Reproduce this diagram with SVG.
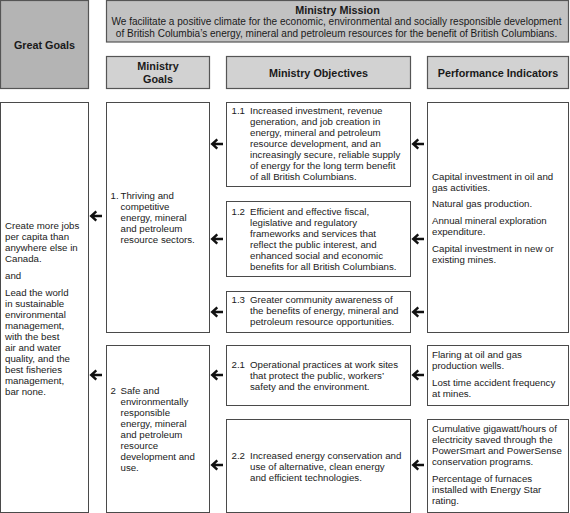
<svg xmlns="http://www.w3.org/2000/svg" xmlns:xlink="http://www.w3.org/1999/xlink" width="570" height="513" viewBox="0 0 570 513">
<style>
  .box { fill: #ffffff; stroke: #4a4a4a; stroke-width: 1; }
  .hdr { fill: #d2d2d2; stroke: #555555; stroke-width: 1.2; }
  .hdr2 { fill: #c2c2c2; stroke: #555555; stroke-width: 1.2; }
  .hdr3 { fill: #b4b4b4; stroke: #555555; stroke-width: 1.2; }
  text { font-family: "Liberation Sans", Arial, sans-serif; fill: #1a1a1a; }
  .t { font-size: 9.7px; }
  .h { font-size: 10.8px; font-weight: bold; text-anchor: middle; }
  .m { font-size: 10.05px; text-anchor: middle; }
  .arr { fill: none; stroke: #111111; stroke-width: 2.4; stroke-linecap: butt; stroke-linejoin: miter; }
</style>
<defs>
  <g id="arrow">
    <path class="arr" d="M1.5,0 H12 M6.3,-4.6 L1.2,0 L6.3,4.6"/>
  </g>
</defs>

<g id="great-goals-header">
  <rect class="hdr3" x="0.5" y="0.5" width="88" height="88"/>
  <text class="h" x="44.5" y="48.5">Great Goals</text>
</g>
<g id="ministry-mission">
  <rect class="hdr2" x="106.5" y="0.5" width="462" height="41.5"/>
  <text class="h" x="337.5" y="14">Ministry Mission</text>
  <text class="m" x="336.5" y="25">We facilitate a positive climate for the economic, environmental and socially responsible development</text>
  <text class="m" x="336.5" y="36.5">of British Columbia’s energy, mineral and petroleum resources for the benefit of British Columbians.</text>
</g>
<g id="ministry-goals-header">
  <rect class="hdr" x="106.5" y="56.5" width="103" height="32"/>
  <text class="h" x="158" y="70">Ministry</text>
  <text class="h" x="158" y="82.5">Goals</text>
</g>
<g id="ministry-objectives-header">
  <rect class="hdr" x="226.5" y="56.5" width="184" height="32"/>
  <text class="h" x="318.5" y="76.5">Ministry Objectives</text>
</g>
<g id="performance-indicators-header">
  <rect class="hdr" x="427.5" y="56.5" width="141" height="32"/>
  <text class="h" x="498" y="76.5">Performance Indicators</text>
</g>

<g id="great-goals">
  <rect class="box" x="0.5" y="102.5" width="88" height="410"/>
  <text class="t">
    <tspan x="5" y="229">Create more jobs</tspan>
    <tspan x="5" y="240">per capita than</tspan>
    <tspan x="5" y="251">anywhere else in</tspan>
    <tspan x="5" y="262">Canada.</tspan>
    <tspan x="5" y="278.5">and</tspan>
    <tspan x="5" y="295.5">Lead the world</tspan>
    <tspan x="5" y="306.5">in sustainable</tspan>
    <tspan x="5" y="317.5">environmental</tspan>
    <tspan x="5" y="328.5">management,</tspan>
    <tspan x="5" y="339.5">with the best</tspan>
    <tspan x="5" y="350.5">air and water</tspan>
    <tspan x="5" y="361.5">quality, and the</tspan>
    <tspan x="5" y="372.5">best fisheries</tspan>
    <tspan x="5" y="383.5">management,</tspan>
    <tspan x="5" y="394.5">bar none.</tspan>
  </text>
</g>

<g id="goal-1">
  <rect class="box" x="106.5" y="102.5" width="103" height="230"/>
  <text class="t">
    <tspan x="110.5" y="198.5">1.</tspan>
    <tspan x="120.5" y="198.5">Thriving and</tspan>
    <tspan x="120.5" y="209.5">competitive</tspan>
    <tspan x="120.5" y="220.5">energy, mineral</tspan>
    <tspan x="120.5" y="231.5">and petroleum</tspan>
    <tspan x="120.5" y="242.5">resource sectors.</tspan>
  </text>
</g>

<g id="goal-2">
  <rect class="box" x="106.5" y="345.5" width="103" height="167"/>
  <text class="t">
    <tspan x="110.5" y="393.5">2</tspan>
    <tspan x="120.5" y="393.5">Safe and</tspan>
    <tspan x="120.5" y="404.5">environmentally</tspan>
    <tspan x="120.5" y="415.5">responsible</tspan>
    <tspan x="120.5" y="426.5">energy, mineral</tspan>
    <tspan x="120.5" y="437.5">and petroleum</tspan>
    <tspan x="120.5" y="448.5">resource</tspan>
    <tspan x="120.5" y="459.5">development and</tspan>
    <tspan x="120.5" y="470.5">use.</tspan>
  </text>
</g>

<g id="objective-1-1">
  <rect class="box" x="226.5" y="102.5" width="184" height="84"/>
  <text class="t">
    <tspan x="231.5" y="113.5">1.1</tspan>
    <tspan x="250" y="113.5">Increased investment, revenue</tspan>
    <tspan x="250" y="124.5">generation, and job creation in</tspan>
    <tspan x="250" y="135.5">energy, mineral and petroleum</tspan>
    <tspan x="250" y="146.5">resource development, and an</tspan>
    <tspan x="250" y="157.5">increasingly secure, reliable supply</tspan>
    <tspan x="250" y="168.5">of energy for the long term benefit</tspan>
    <tspan x="250" y="179.5">of all British Columbians.</tspan>
  </text>
</g>

<g id="objective-1-2">
  <rect class="box" x="226.5" y="201.5" width="184" height="75"/>
  <text class="t">
    <tspan x="231.5" y="214.5">1.2</tspan>
    <tspan x="250" y="214.5">Efficient and effective fiscal,</tspan>
    <tspan x="250" y="225.5">legislative and regulatory</tspan>
    <tspan x="250" y="236.5">frameworks and services that</tspan>
    <tspan x="250" y="247.5">reflect the public interest, and</tspan>
    <tspan x="250" y="258.5">enhanced social and economic</tspan>
    <tspan x="250" y="269.5">benefits for all British Columbians.</tspan>
  </text>
</g>

<g id="objective-1-3">
  <rect class="box" x="226.5" y="291.5" width="184" height="41"/>
  <text class="t">
    <tspan x="231.5" y="302.5">1.3</tspan>
    <tspan x="250" y="302.5">Greater community awareness of</tspan>
    <tspan x="250" y="313.5">the benefits of energy, mineral and</tspan>
    <tspan x="250" y="324.5">petroleum resource opportunities.</tspan>
  </text>
</g>

<g id="objective-2-1">
  <rect class="box" x="226.5" y="345.5" width="184" height="60"/>
  <text class="t">
    <tspan x="231.5" y="367.5">2.1</tspan>
    <tspan x="250" y="367.5">Operational practices at work sites</tspan>
    <tspan x="250" y="378.5">that protect the public, workers’</tspan>
    <tspan x="250" y="389.5">safety and the environment.</tspan>
  </text>
</g>

<g id="objective-2-2">
  <rect class="box" x="226.5" y="419.5" width="184" height="93"/>
  <text class="t">
    <tspan x="231.5" y="458.5">2.2</tspan>
    <tspan x="250" y="458.5">Increased energy conservation and</tspan>
    <tspan x="250" y="469.5">use of alternative, clean energy</tspan>
    <tspan x="250" y="480.5">and efficient technologies.</tspan>
  </text>
</g>

<g id="indicators-1">
  <rect class="box" x="427.5" y="102.5" width="141" height="230"/>
  <text class="t">
    <tspan x="432" y="179.5">Capital investment in oil and</tspan>
    <tspan x="432" y="190.5">gas activities.</tspan>
    <tspan x="432" y="206.5">Natural gas production.</tspan>
    <tspan x="432" y="223.5">Annual mineral exploration</tspan>
    <tspan x="432" y="234.5">expenditure.</tspan>
    <tspan x="432" y="251.5">Capital investment in new or</tspan>
    <tspan x="432" y="262.5">existing mines.</tspan>
  </text>
</g>

<g id="indicators-2">
  <rect class="box" x="427.5" y="345.5" width="141" height="60"/>
  <text class="t">
    <tspan x="432" y="358">Flaring at oil and gas</tspan>
    <tspan x="432" y="369">production wells.</tspan>
    <tspan x="432" y="386">Lost time accident frequency</tspan>
    <tspan x="432" y="397">at mines.</tspan>
  </text>
</g>

<g id="indicators-3">
  <rect class="box" x="427.5" y="419.5" width="141" height="93"/>
  <text class="t">
    <tspan x="432" y="432">Cumulative gigawatt/hours of</tspan>
    <tspan x="432" y="443">electricity saved through the</tspan>
    <tspan x="432" y="454">PowerSmart and PowerSense</tspan>
    <tspan x="432" y="465">conservation programs.</tspan>
    <tspan x="432" y="482">Percentage of furnaces</tspan>
    <tspan x="432" y="493">installed with Energy Star</tspan>
    <tspan x="432" y="504">rating.</tspan>
  </text>
</g>

<g id="connectors">
  <use xlink:href="#arrow" x="90" y="216"/>
  <use xlink:href="#arrow" x="90" y="375"/>
  <use xlink:href="#arrow" x="211" y="144"/>
  <use xlink:href="#arrow" x="211" y="239"/>
  <use xlink:href="#arrow" x="211" y="312"/>
  <use xlink:href="#arrow" x="211" y="375"/>
  <use xlink:href="#arrow" x="211" y="465"/>
  <use xlink:href="#arrow" x="412" y="144"/>
  <use xlink:href="#arrow" x="412" y="239"/>
  <use xlink:href="#arrow" x="412" y="312"/>
  <use xlink:href="#arrow" x="412" y="375"/>
  <use xlink:href="#arrow" x="412" y="465"/>
</g>
</svg>
